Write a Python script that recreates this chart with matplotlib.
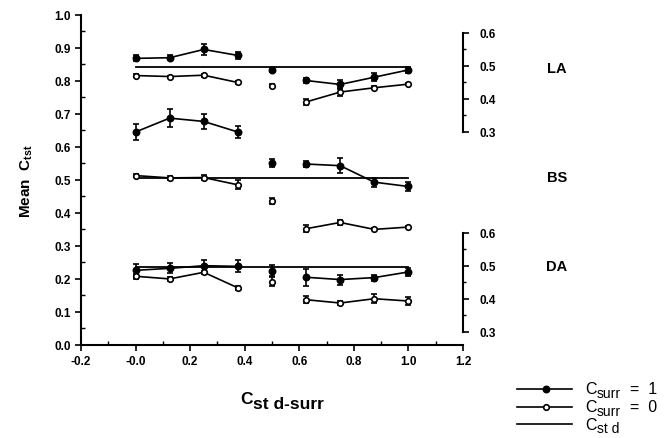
import numpy as np
import matplotlib.pyplot as plt
from matplotlib.lines import Line2D
from matplotlib.ticker import MultipleLocator

plt.rcParams['font.family'] = ['Liberation Sans', 'DejaVu Sans']
plt.rcParams['mathtext.fontset'] = 'custom'
plt.rcParams['mathtext.rm'] = 'Liberation Sans'
plt.rcParams['mathtext.bf'] = 'Liberation Sans:bold'

# contraste estandar-entorno
x = [0.0, 0.125, 0.25, 0.375, 0.5, 0.625, 0.75, 0.875, 1.0]

# LA
la_1 = [0.868, 0.870, 0.895, 0.877, 0.833, 0.801, 0.789, 0.811, 0.833]
la_1_err = [0.009, 0.008, 0.016, 0.011, 0.007, 0.008, 0.013, 0.012, 0.010]
la_0 = [0.816, 0.813, 0.817, 0.795, 0.785, 0.736, 0.766, 0.779, 0.790]
la_0_err = [0.004, 0.003, 0.004, 0.004, 0.005, 0.009, 0.012, 0.005, 0.004]
la_std = 0.842

# BS
bs_1 = [0.645, 0.687, 0.677, 0.645, 0.551, 0.548, 0.543, 0.493, 0.480]
bs_1_err = [0.024, 0.028, 0.022, 0.017, 0.011, 0.009, 0.022, 0.014, 0.014]
bs_0 = [0.513, 0.506, 0.507, 0.485, 0.436, 0.352, 0.371, 0.350, 0.357]
bs_0_err = [0.004, 0.007, 0.007, 0.014, 0.009, 0.010, 0.007, 0.003, 0.003]
bs_std = 0.506

# DA
da_1 = [0.226, 0.232, 0.240, 0.238, 0.225, 0.205, 0.198, 0.204, 0.221]
da_1_err = [0.019, 0.015, 0.018, 0.018, 0.017, 0.025, 0.015, 0.009, 0.011]
da_0 = [0.208, 0.200, 0.220, 0.173, 0.192, 0.137, 0.127, 0.140, 0.133]
da_0_err = [0.007, 0.005, 0.005, 0.006, 0.014, 0.010, 0.007, 0.014, 0.012]
da_std = 0.237

# tramos conectados por lineas (el punto 0.5 va suelto)
tramos = [slice(0, 4), slice(4, 5), slice(5, 9)]

W, H = 669, 439
fig = plt.figure(figsize=(W / 100, H / 100), dpi=100)
ax = fig.add_axes([0.121, 0.212, 0.571, 0.752])

def dibujar_serie(valores, errores, relleno):
    xs = np.array(x)
    ys = np.array(valores)
    es = np.array(errores)
    for t in tramos:
        ax.errorbar(xs[t], ys[t], yerr=es[t], fmt='-o', color='black',
                    mfc='black' if relleno else 'white', mec='black',
                    ms=4.5 if relleno else 4, mew=1.2, lw=1.2,
                    elinewidth=1.2, capsize=2.5, capthick=1.2)

for v1, e1, v0, e0, std in [(la_1, la_1_err, la_0, la_0_err, la_std),
                            (bs_1, bs_1_err, bs_0, bs_0_err, bs_std),
                            (da_1, da_1_err, da_0, da_0_err, da_std)]:
    ax.plot([x[0], x[-1]], [std, std], color='black', lw=1.3)
    dibujar_serie(v1, e1, True)
    dibujar_serie(v0, e0, False)

ax.set_xlim(-0.2, 1.2)
ax.set_ylim(0.0, 1.0)
ax.spines['top'].set_visible(False)
ax.spines['right'].set_visible(False)
ax.spines['left'].set_linewidth(1.5)
ax.spines['bottom'].set_linewidth(1.5)

ax.xaxis.set_minor_locator(MultipleLocator(0.1))
ax.yaxis.set_minor_locator(MultipleLocator(0.05))
ax.tick_params(which='major', direction='out', length=4, width=1.2, labelsize=8.5)
ax.tick_params(which='minor', direction='in', length=3, width=1.0)
ax.set_xticks(np.arange(-0.2, 1.21, 0.2))
ax.set_xticklabels(['-0.2', '-0.0', '0.2', '0.4', '0.6', '0.8', '1.0', '1.2'],
                   fontweight='bold')
ax.set_yticks(np.arange(0, 1.01, 0.1))
ax.set_yticklabels([f'{v:.1f}' for v in np.arange(0, 1.01, 0.1)], fontweight='bold')

ax.set_ylabel(r'Mean  C$_{\mathbf{tst}}$', fontsize=11, fontweight='bold', labelpad=14)

# escalas de la derecha
def escala(offset):
    sec = ax.secondary_yaxis(1.0, functions=(lambda y: y + offset, lambda y: y - offset))
    sec.set_yticks([0.3, 0.4, 0.5, 0.6])
    sec.set_yticks([0.35, 0.45, 0.55], minor=True)
    sec.set_yticklabels(['0.3', '0.4', '0.5', '0.6'], fontweight='bold')
    sec.spines['right'].set_bounds(0.3, 0.6)
    sec.spines['right'].set_linewidth(1.5)
    sec.tick_params(which='major', direction='out', length=4, width=1.2, labelsize=8.5, pad=8)
    sec.tick_params(which='minor', direction='out', length=2.5, width=1.0)
    return sec

escala(0.5 - 0.845)
escala(0.5 - 0.240)

for nombre, yv in [('LA', 0.840), ('BS', 0.508), ('DA', 0.240)]:
    ax.text(1.545, yv, nombre, fontsize=10.5, fontweight='bold', va='center', ha='center',
            clip_on=False)

# texto con subindice grande (como en el original)
renderer = fig.canvas.get_renderer()

def texto_sub(xpx, ypx, base, sub, cola='', size=12, subsize=10, peso='normal', baja=5):
    t = fig.text(xpx / W, 1 - ypx / H, base, fontsize=size, fontweight=peso, va='baseline')
    bb = t.get_window_extent(renderer)
    t2 = fig.text(bb.x1 / W + 0.001, 1 - (ypx + baja) / H, sub, fontsize=subsize,
                  fontweight=peso, va='baseline')
    if cola:
        bb2 = t2.get_window_extent(renderer)
        fig.text(bb2.x1 / W, 1 - ypx / H, cola, fontsize=size, fontweight=peso, va='baseline')

texto_sub(240, 404, 'C', 'st d-surr', size=12.5, subsize=12.5, peso='bold', baja=5)

# leyenda
filas = [(390, 'black', 'o', '  =  1'), (408, 'white', 'o', '  =  0'), (425, None, None, '')]
for yp, mfc, mk, cola in filas:
    fig.add_artist(Line2D([517 / W, 572 / W], [1 - yp / H, 1 - yp / H], color='black', lw=1.2))
    if mk:
        fig.add_artist(Line2D([546 / W], [1 - yp / H], color='black', marker=mk, mfc=mfc,
                              ms=4.5 if mfc == 'black' else 4, mew=1.2))
        texto_sub(585, yp + 4, 'C', 'surr', cola, size=11.5, subsize=10, baja=4)
    else:
        texto_sub(585, yp + 5, 'C', 'st d', '', size=11.5, subsize=10, baja=3)

fig.savefig('out.png', dpi=100)
